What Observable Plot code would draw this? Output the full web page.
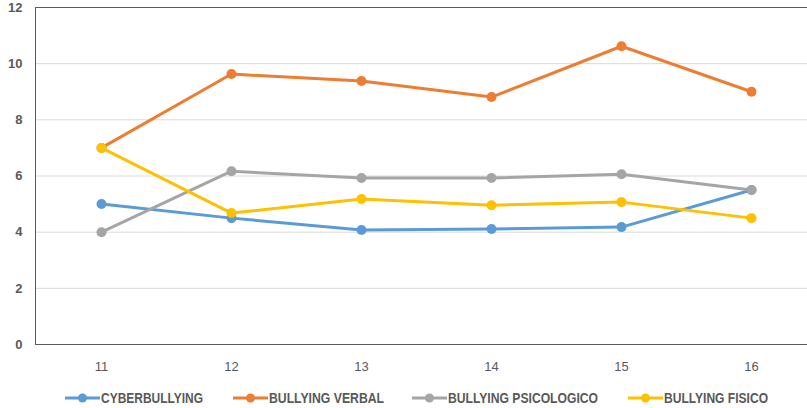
<!DOCTYPE html>
<html>
<head>
<meta charset="utf-8">
<script src="https://cdn.jsdelivr.net/npm/d3@7"></script>
<script src="https://cdn.jsdelivr.net/npm/@observablehq/plot@0.6"></script>
<style>
  body { margin: 0; background: #fff; overflow: hidden; }
  #legend { display: block; }
</style>
</head>
<body>
<div id="chart"></div>
<svg id="legend" width="807" height="28"></svg>
<script>
const ages = ["11", "12", "13", "14", "15", "16"];
const seriesNames = ["CYBERBULLYING", "BULLYING VERBAL", "BULLYING PSICOLOGICO", "BULLYING FISICO"];
const cyberbullying = [5.0, 4.5, 4.08, 4.11, 4.18, 5.5];
const verbal = [7.0, 9.63, 9.38, 8.81, 10.62, 9.0];
const psicologico = [4.0, 6.17, 5.93, 5.93, 6.06, 5.5];
const fisico = [7.0, 4.68, 5.18, 4.96, 5.07, 4.5];
const colors = ["#5B9BD5", "#ED7D31", "#A5A5A5", "#FFC000"];
const yTicks = [0, 2, 4, 6, 8, 10, 12];

const allSeries = [cyberbullying, verbal, psicologico, fisico];
const data = [];
allSeries.forEach((vals, si) => {
  vals.forEach((v, i) => data.push({age: ages[i], value: v, series: seriesNames[si]}));
});

const chart = Plot.plot({
  width: 807,
  height: 380,
  marginLeft: 35,
  marginRight: -10,
  marginTop: 7,
  marginBottom: 36,
  style: {fontFamily: "'Liberation Sans', Arial, sans-serif", color: "#595959", overflow: "hidden"},
  x: {type: "point", domain: ages, range: [101, 751], padding: 0, label: null},
  y: {domain: [0, 12], label: null},
  color: {domain: seriesNames, range: colors},
  marks: [
    Plot.gridY(yTicks.slice(1, -1), {stroke: "#d9d9d9", strokeOpacity: 1, strokeWidth: 1}),
    Plot.axisY(yTicks, {tickSize: 0, tickPadding: 13, fontSize: 13, fontWeight: "bold", fill: "#595959", label: null}),
    Plot.axisX(ages, {tickSize: 0, tickPadding: 17, fontSize: 13, fill: "#595959", label: null}),
    Plot.frame({stroke: "#595959", strokeWidth: 1}),
    Plot.line(data, {x: "age", y: "value", stroke: "series", strokeWidth: 3, curve: "linear"}),
    Plot.dot(data, {x: "age", y: "value", fill: "series", r: 5})
  ]
});
document.getElementById("chart").appendChild(chart);

// legend layout (swatch start, text width)
const legendX = [65, 233, 412, 628];
const legendW = [102, 115, 150, 104];
const ns = "http://www.w3.org/2000/svg";
const legend = document.getElementById("legend");
seriesNames.forEach((name, i) => {
  const x0 = legendX[i];
  const line = document.createElementNS(ns, "line");
  line.setAttribute("x1", x0); line.setAttribute("x2", x0 + 35);
  line.setAttribute("y1", 18); line.setAttribute("y2", 18);
  line.setAttribute("stroke", colors[i]); line.setAttribute("stroke-width", 3);
  legend.appendChild(line);
  const c = document.createElementNS(ns, "circle");
  c.setAttribute("cx", x0 + 17.5); c.setAttribute("cy", 18); c.setAttribute("r", 4.5);
  c.setAttribute("fill", colors[i]);
  legend.appendChild(c);
  const t = document.createElementNS(ns, "text");
  t.setAttribute("x", x0 + 36); t.setAttribute("y", 18);
  t.setAttribute("dy", "0.35em");
  t.setAttribute("font-family", "'Liberation Sans', Arial, sans-serif");
  t.setAttribute("font-weight", "bold");
  t.setAttribute("font-size", 14.5);
  t.setAttribute("fill", "#595959");
  t.setAttribute("textLength", legendW[i]);
  t.setAttribute("lengthAdjust", "spacingAndGlyphs");
  t.textContent = name;
  legend.appendChild(t);
});
</script>
</body>
</html>
